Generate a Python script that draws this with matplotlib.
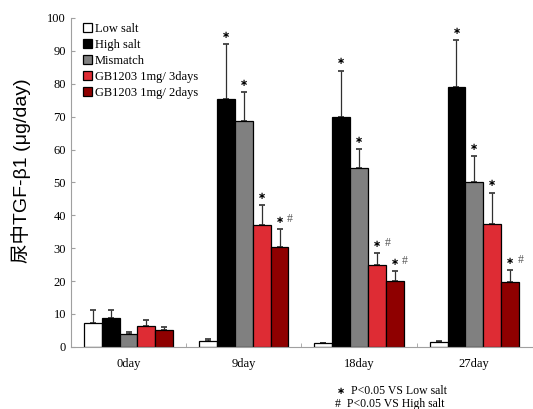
import numpy as np
import matplotlib
matplotlib.use('Agg')
import matplotlib.pyplot as plt
from matplotlib.ticker import FixedLocator

# data
days = ['0day', '9day', '18day', '27day']
groups = ['Low salt', 'High salt', 'Mismatch', 'GB1203 1mg/ 3days', 'GB1203 1mg/ 2days']
low_salt = [7.3, 1.7, 1.1, 1.4]
high_salt = [8.9, 75.5, 69.8, 79.0]
mismatch = [4.0, 68.7, 54.5, 50.1]
gb_3days = [6.4, 37.2, 24.8, 37.3]
gb_2days = [5.0, 30.4, 19.9, 19.7]
low_err = [3.9, 0.6, 0.0, 0.4]
high_err = [2.3, 16.5, 14.2, 14.2]
mis_err = [0.6, 8.8, 5.6, 8.0]
gb3_err = [1.7, 5.8, 3.7, 9.6]
gb2_err = [1.1, 5.4, 3.1, 3.6]
marks = [
    ['', '', '', '', ''],
    ['', '*', '*', '*', '* #'],
    ['', '*', '*', '* #', '* #'],
    ['', '*', '*', '*', '* #'],
]

values = [low_salt, high_salt, mismatch, gb_3days, gb_2days]
errors = [low_err, high_err, mis_err, gb3_err, gb2_err]
colors = ['white', 'black', '#808080', '#de2c34', '#8f0000']

serif = 'Liberation Serif'
fig = plt.figure(figsize=(5.33, 4.09), dpi=100)
ax = fig.add_axes([0.133, 0.152, 0.865, 0.804])

x = np.arange(len(days))
w = 0.155
for i in range(5):
    pos = x + (i - 2) * w
    ax.bar(pos, values[i], w, color=colors[i], edgecolor='black', linewidth=0.9,
           label=groups[i], zorder=2)
    ax.errorbar(pos, values[i], yerr=[np.zeros(4), errors[i]], fmt='none',
                ecolor='#303030', elinewidth=0.9, capsize=2.5, capthick=1.2, zorder=1)
    for j in range(4):
        m = marks[j][i]
        if not m:
            continue
        top = values[i][j] + errors[i][j]
        ax.annotate('∗', (pos[j], top), xytext=(0, 3), textcoords='offset points',
                    ha='center', va='bottom', fontsize=7, family='DejaVu Sans',
                    weight='bold')
        if '#' in m:
            ax.annotate('#', (pos[j], top), xytext=(7.5, 3), textcoords='offset points',
                        ha='center', va='bottom', fontsize=8.5, family=serif, color='#555555')

ax.set_xlim(-0.5, 3.5)
ax.set_ylim(0, 100)
ax.set_yticks(np.arange(0, 101, 10))
ax.set_xticks(x)
ax.set_xticklabels(days, family=serif, fontsize=9)
ax.xaxis.set_minor_locator(FixedLocator([0.5, 1.5, 2.5]))
ax.tick_params(axis='x', which='major', length=0, pad=8)
ax.tick_params(axis='x', which='minor', length=3, direction='in', color='#a0a0a0')
ax.tick_params(axis='y', length=3, direction='in', color='#a0a0a0', labelsize=9)
for lab in ax.get_yticklabels():
    lab.set_family(serif)
for s in ['top', 'right']:
    ax.spines[s].set_visible(False)
for s in ['left', 'bottom']:
    ax.spines[s].set_color('#a0a0a0')

ax.set_ylabel('尿中TGF-β1 (μg/day)', family=['Liberation Sans', 'Noto Sans CJK SC'],
              fontsize=14)
ax.yaxis.set_label_coords(-0.087, 0.535)

ax.legend(loc='upper left', bbox_to_anchor=(0.015, 1.0), frameon=False,
          prop={'family': serif, 'size': 9}, handlelength=0.7, handleheight=0.75,
          handletextpad=0.25, labelspacing=0.32, borderaxespad=0)

fig.text(0.632, 0.045, '∗', family='DejaVu Sans', fontsize=7, weight='bold', va='center')
fig.text(0.658, 0.045, 'P<0.05 VS Low salt', family=serif, fontsize=8.5, va='center')
fig.text(0.628, 0.012, '#  P<0.05 VS High salt', family=serif, fontsize=8.5, va='center')

fig.savefig('out.png', dpi=100)
